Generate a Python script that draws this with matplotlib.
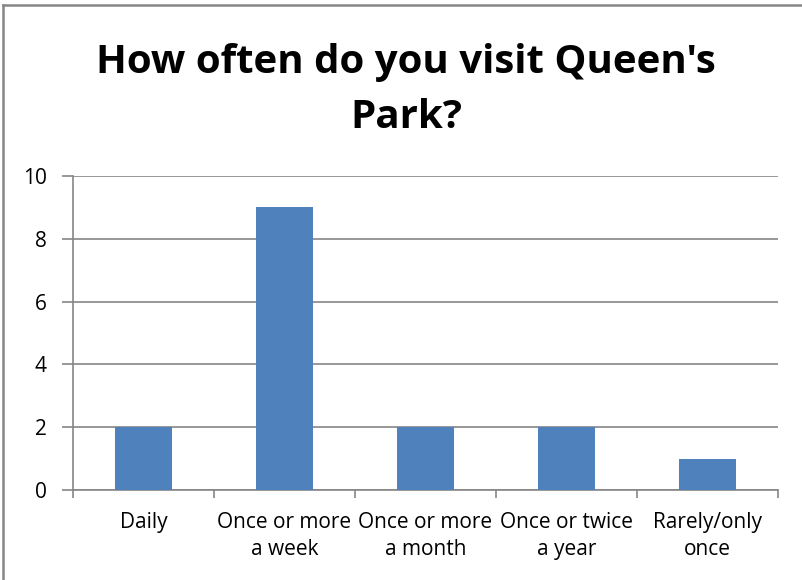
import numpy as np
import matplotlib
matplotlib.use('Agg')
import matplotlib.pyplot as plt
from matplotlib.lines import Line2D

categories = ['Daily', 'Once or more\na week', 'Once or more\na month',
              'Once or twice\na year', 'Rarely/only\nonce']
counts = [2, 9, 2, 2, 1]
yticks = [0, 2, 4, 6, 8, 10]

plt.rcParams['font.family'] = ['Open Sans', 'DejaVu Sans']

fig = plt.figure(figsize=(8.02, 5.80), dpi=100)
ax = fig.add_axes([73 / 802, 1 - 490 / 580, 705 / 802, 314 / 580])

x = np.arange(len(categories))
ax.bar(x, counts, width=0.4, color='#4F81BD', zorder=3)

ax.set_xlim(-0.5, len(categories) - 0.5)
ax.set_ylim(0, 10)
ax.set_yticks(yticks)
ax.set_yticklabels([str(v) for v in yticks], fontsize=15)
ax.yaxis.grid(True, color='#868686', linewidth=1.2, zorder=0)

# category labels sit between the boundary ticks
ax.set_xticks(np.arange(len(categories) + 1) - 0.5)
ax.set_xticklabels([])
ax.set_xticks(x, minor=True)
ax.set_xticklabels(categories, minor=True, fontsize=15, linespacing=1.35)
ax.tick_params(axis='x', which='minor', length=0, pad=16)
ax.tick_params(axis='x', which='major', length=6, width=1.2, color='#868686')
ax.tick_params(axis='y', length=8, width=1.2, color='#868686', pad=11)

for side in ['top', 'right']:
    ax.spines[side].set_visible(False)
for side in ['left', 'bottom']:
    ax.spines[side].set_color('#868686')
    ax.spines[side].set_linewidth(1.2)

title_kw = dict(ha='center', va='baseline', fontsize=29, fontweight='bold')
fig.text(406 / 802, 1 - 73 / 580, "How often do you visit Queen's", **title_kw)
fig.text(406 / 802, 1 - 128 / 580, "Park?", **title_kw)

# chart frame (top and left edges)
fig.add_artist(Line2D([3.5 / 802, 3.5 / 802], [0, 1 - 4.5 / 580],
                      color='#868686', linewidth=1.8, transform=fig.transFigure))
fig.add_artist(Line2D([3.5 / 802, 1], [1 - 4.5 / 580, 1 - 4.5 / 580],
                      color='#868686', linewidth=1.8, transform=fig.transFigure))

fig.savefig('out.png', dpi=100)
